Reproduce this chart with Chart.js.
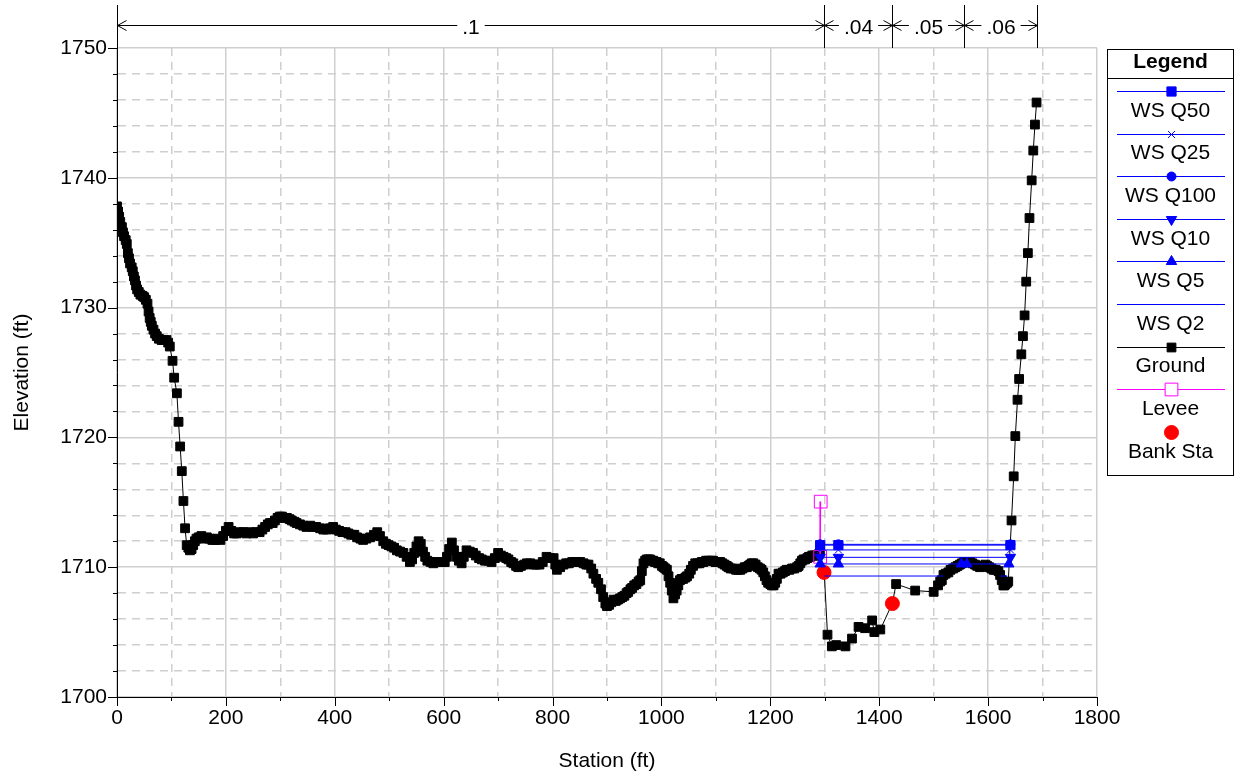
<!DOCTYPE html>
<html>
<head>
<meta charset="utf-8">
<script src="https://cdn.jsdelivr.net/npm/chart.js@4.4.1/dist/chart.umd.min.js"></script>
<style>
  html, body { margin: 0; padding: 0; background: #fff; }
</style>
</head>
<body>
<canvas id="xsChart" width="1235" height="777"></canvas>
<script>
// ground profile (station ft, elevation ft)
const groundStation = [
  0, 2, 4, 6, 9, 11, 13, 16, 18, 20, 22, 24, 27, 29, 31, 33, 35, 37, 40, 43,
  47, 50, 53, 56, 58, 60, 62, 64, 67, 70, 73, 77, 82, 86, 91, 94, 97, 102, 105, 110,
  113, 116, 119, 122, 125, 128, 131, 134, 137, 140, 143, 146, 150, 155, 160, 165, 170, 175, 180, 185,
  190, 195, 200, 205, 210, 215, 220, 226, 232, 238, 244, 250, 256, 262, 267, 272, 277, 281, 286, 290,
  295, 299, 303, 308, 312, 317, 321, 326, 330, 336, 342, 348, 355, 360, 366, 373, 379, 385, 391, 397,
  402, 408, 414, 420, 425, 430, 436, 441, 447, 452, 458, 465, 472, 478, 483, 489, 494, 499, 504, 509,
  514, 520, 526, 532, 538, 542, 546, 550, 554, 558, 562, 566, 570, 576, 581, 587, 592, 597, 602, 606,
  610, 615, 619, 624, 628, 633, 637, 642, 648, 654, 659, 665, 670, 676, 682, 688, 694, 700, 705, 710,
  715, 719, 724, 728, 733, 737, 742, 748, 753, 759, 765, 770, 776, 782, 789, 795, 802, 805, 808, 814,
  820, 825, 830, 836, 841, 846, 851, 857, 862, 866, 871, 875, 880, 884, 889, 893, 897, 900, 904, 908,
  912, 916, 920, 924, 928, 932, 936, 939, 943, 946, 950, 954, 958, 961, 964, 967, 970, 973, 976, 979,
  982, 985, 988, 991, 994, 997, 1001, 1004, 1007, 1010, 1013, 1016, 1019, 1022, 1025, 1028, 1031, 1034, 1037, 1040,
  1044, 1047, 1051, 1054, 1058, 1062, 1066, 1070, 1074, 1077, 1082, 1086, 1091, 1095, 1099, 1102, 1105, 1108, 1112, 1116,
  1120, 1123, 1127, 1132, 1137, 1141, 1145, 1149, 1153, 1157, 1160, 1163, 1166, 1169, 1173, 1177, 1181, 1184, 1187, 1190,
  1193, 1196, 1200, 1203, 1206, 1209, 1212, 1215, 1219, 1223, 1227, 1230, 1235, 1240, 1244, 1249, 1252, 1255, 1258, 1261,
  1264, 1268, 1271, 1273, 1277, 1280, 1283, 1286, 1289, 1291, 1299, 1305, 1313, 1321, 1338, 1350, 1362, 1374, 1387, 1391,
  1402, 1424, 1431, 1466, 1500, 1508, 1512, 1515, 1518, 1522, 1527, 1531, 1536, 1540, 1544, 1548, 1552, 1556, 1560, 1564,
  1567, 1571, 1576, 1580, 1585, 1590, 1595, 1598, 1602, 1606, 1610, 1614, 1619, 1622, 1625, 1628, 1630, 1632, 1635, 1637,
  1643, 1647, 1650, 1654, 1657, 1661, 1664, 1667, 1670, 1673, 1676, 1680, 1683, 1686, 1689
];
const groundElev = [
  1737.8, 1737.4, 1737.0, 1736.6, 1736.2, 1735.8, 1735.5, 1735.2, 1734.9, 1734.2, 1733.8, 1733.4, 1733.1, 1732.8, 1732.4, 1732.1, 1731.7, 1731.4, 1731.2, 1731.0,
  1730.9, 1730.8, 1730.6, 1730.3, 1729.7, 1729.2, 1728.9, 1728.6, 1728.3, 1728.0, 1727.8, 1727.6, 1727.5, 1727.5, 1727.5, 1727.3, 1727.0, 1725.9, 1724.6, 1723.4,
  1721.2, 1719.3, 1717.4, 1715.1, 1713.0, 1711.7, 1711.5, 1711.3, 1711.4, 1711.7, 1712.0, 1712.2, 1712.3, 1712.4, 1712.2, 1712.3, 1712.2, 1712.1, 1712.1, 1712.2,
  1712.1, 1712.4, 1712.8, 1713.1, 1712.8, 1712.6, 1712.6, 1712.7, 1712.7, 1712.6, 1712.7, 1712.6, 1712.7, 1712.7, 1712.9, 1713.1, 1713.3, 1713.4, 1713.4, 1713.6,
  1713.8, 1713.9, 1713.9, 1713.8, 1713.8, 1713.7, 1713.6, 1713.5, 1713.4, 1713.3, 1713.2, 1713.1, 1713.2, 1713.1, 1713.1, 1713.0, 1712.9, 1712.9, 1713.0, 1713.1,
  1712.9, 1712.8, 1712.7, 1712.7, 1712.6, 1712.5, 1712.5, 1712.3, 1712.2, 1712.1, 1712.2, 1712.3, 1712.5, 1712.7, 1712.4, 1712.0, 1711.8, 1711.7, 1711.6, 1711.5,
  1711.3, 1711.2, 1711.1, 1710.8, 1710.4, 1710.6, 1711.1, 1711.6, 1712.0, 1711.8, 1711.2, 1710.8, 1710.5, 1710.4, 1710.3, 1710.4, 1710.4, 1710.4, 1710.4, 1710.8,
  1711.4, 1711.9, 1711.3, 1710.8, 1710.5, 1710.3, 1710.8, 1711.3, 1711.2, 1711.1, 1710.9, 1710.7, 1710.6, 1710.5, 1710.5, 1710.4, 1710.7, 1711.1, 1710.9, 1710.8,
  1710.7, 1710.6, 1710.4, 1710.3, 1710.1, 1710.0, 1710.1, 1710.2, 1710.3, 1710.3, 1710.2, 1710.2, 1710.2, 1710.4, 1710.8, 1710.7, 1710.7, 1710.2, 1709.8, 1710.0,
  1710.2, 1710.3, 1710.3, 1710.4, 1710.4, 1710.4, 1710.4, 1710.3, 1710.2, 1710.2, 1709.9, 1709.5, 1709.1, 1708.8, 1708.3, 1707.7, 1707.2, 1707.0, 1707.1, 1707.3,
  1707.5, 1707.4, 1707.5, 1707.6, 1707.7, 1707.8, 1708.0, 1708.1, 1708.3, 1708.4, 1708.6, 1708.7, 1708.9, 1709.0, 1709.7, 1710.3, 1710.5, 1710.6, 1710.6, 1710.6,
  1710.5, 1710.5, 1710.4, 1710.4, 1710.3, 1710.3, 1710.1, 1710.0, 1709.9, 1709.8, 1709.3, 1708.8, 1708.2, 1707.6, 1707.9, 1708.2, 1708.6, 1709.0, 1709.1, 1709.1,
  1709.2, 1709.3, 1709.5, 1709.8, 1710.1, 1710.3, 1710.3, 1710.3, 1710.4, 1710.4, 1710.5, 1710.5, 1710.5, 1710.5, 1710.4, 1710.4, 1710.4, 1710.4, 1710.3, 1710.2,
  1710.1, 1710.0, 1709.9, 1709.9, 1709.8, 1709.8, 1709.8, 1709.9, 1710.0, 1710.0, 1710.1, 1710.2, 1710.3, 1710.3, 1710.2, 1710.0, 1709.9, 1709.8, 1709.6, 1709.3,
  1709.0, 1708.8, 1708.7, 1708.6, 1708.6, 1708.8, 1709.1, 1709.5, 1709.5, 1709.6, 1709.7, 1709.8, 1709.8, 1709.9, 1709.9, 1710.0, 1710.1, 1710.3, 1710.5, 1710.6,
  1710.6, 1710.7, 1710.8, 1710.8, 1710.9, 1710.9, 1710.9, 1710.9, 1711.0, 1711.2, 1709.6, 1704.8, 1703.9, 1704.0, 1703.9, 1704.5, 1705.4, 1705.3, 1705.9, 1705.0,
  1705.2, 1707.2, 1708.7, 1708.2, 1708.1, 1708.6, 1708.9, 1709.0, 1709.4, 1709.5, 1709.6, 1709.8, 1709.9, 1710.0, 1710.1, 1710.2, 1710.3, 1710.4, 1710.4, 1710.4,
  1710.4, 1710.3, 1710.2, 1710.1, 1710.0, 1710.1, 1710.2, 1710.1, 1710.0, 1709.9, 1709.8, 1709.8, 1709.7, 1709.4, 1709.0, 1708.6, 1708.6, 1708.7, 1708.8, 1708.9,
  1713.6, 1717.0, 1720.1, 1722.9, 1724.5, 1726.4, 1727.8, 1729.4, 1732.0, 1734.2, 1736.9, 1739.8, 1742.1, 1744.1, 1745.8
];

const bankStation = [1298.6, 1424.2];
const bankElev = [1709.6, 1707.2];
const leveeStation = [1292.5, 1291.5];
const leveeElev = [1715.05, 1710.8];

// water surface profiles: elevation and wetted station segments
const wsNames = ['WS Q50', 'WS Q25', 'WS Q100', 'WS Q10', 'WS Q5', 'WS Q2'];
const wsElev = [1711.70, 1711.33, 1711.76, 1710.76, 1710.25, 1709.32];
const wsSegments = [
  [[1291.5, 1325, 1641]],
  [[1291.5, 1325, 1641]],
  [[1291.5, 1325, 1641]],
  [[1291.5, 1325, 1641]],
  [[1291.5, 1325, 1551], [1561, 1638]],
  [[1299, 1517], [1622, 1635]]
];

// Manning's n breaks along the top
const nBreaks = [0, 1298.6, 1424.2, 1556, 1689.4];
const nValues = ['.1', '.04', '.05', '.06'];

const FONT = 'Liberation Sans, Arial, sans-serif';
Chart.defaults.font.family = FONT;
Chart.defaults.font.size = 21;
Chart.defaults.color = '#000';

function toPoints(xs, ys) {
  return xs.map((x, i) => ({ x: x, y: ys[i] }));
}

function wsPoints(segments, elev) {
  const pts = [];
  segments.forEach((seg, k) => {
    if (k > 0) {
      const prev = segments[k - 1];
      pts.push({ x: (prev[prev.length - 1] + seg[0]) / 2, y: null });
    }
    seg.forEach(x => pts.push({ x: x, y: elev }));
  });
  return pts;
}

const wsMarkers = [
  { style: 'rect', radius: 6.5, rotation: 0 },
  { style: 'crossRot', radius: 5, rotation: 0 },
  { style: 'circle', radius: 4.5, rotation: 0 },
  { style: 'triangle', radius: 6, rotation: 180 },
  { style: 'triangle', radius: 6, rotation: 0 },
  { style: 'circle', radius: 0, rotation: 0 }
];

const datasets = wsNames.map((name, i) => ({
  label: name,
  data: wsPoints(wsSegments[i], wsElev[i]),
  borderColor: '#0000ff',
  backgroundColor: '#0000ff',
  borderWidth: 1,
  pointStyle: wsMarkers[i].style,
  pointRadius: wsMarkers[i].radius,
  pointRotation: wsMarkers[i].rotation,
  pointBackgroundColor: '#0000ff',
  pointBorderColor: '#0000ff',
  pointBorderWidth: 1,
  spanGaps: false,
  order: 1
}));

datasets.push({
  label: 'Ground',
  data: toPoints(groundStation, groundElev),
  borderColor: '#000',
  borderWidth: 1,
  pointStyle: 'rect',
  pointRadius: 6.2,
  pointBackgroundColor: '#000',
  pointBorderColor: '#000',
  pointBorderWidth: 1,
  order: 4
});

datasets.push({
  label: 'Levee',
  data: toPoints(leveeStation, leveeElev),
  borderColor: '#ff00ff',
  borderWidth: 1,
  pointStyle: 'rect',
  pointRadius: 9,
  pointBackgroundColor: 'rgba(0,0,0,0)',
  pointBorderColor: '#ff00ff',
  pointBorderWidth: 1,
  order: 3
});

datasets.push({
  label: 'Bank Sta',
  data: toPoints(bankStation, bankElev),
  showLine: false,
  pointStyle: 'circle',
  pointRadius: 7,
  pointBackgroundColor: '#ff0000',
  pointBorderColor: '#ff0000',
  pointBorderWidth: 1,
  order: 2
});

// axis tick marks, axis extension and the n-value ruler on top
const framePlugin = {
  id: 'frame',
  afterDraw(chart) {
    const ctx = chart.ctx;
    const xs = chart.scales.x, ys = chart.scales.y;
    const area = chart.chartArea;
    ctx.save();
    ctx.strokeStyle = '#000';
    ctx.lineWidth = 1;
    ctx.beginPath();
    ys.ticks.forEach(t => {
      const y = Math.round(ys.getPixelForValue(t.value)) + 0.5;
      const len = t.value % 10 === 0 ? 9 : 4;
      ctx.moveTo(area.left - len, y);
      ctx.lineTo(area.left, y);
    });
    xs.ticks.forEach(t => {
      const x = Math.round(xs.getPixelForValue(t.value)) + 0.5;
      const len = t.value % 200 === 0 ? 9 : 4;
      ctx.moveTo(x, area.bottom);
      ctx.lineTo(x, area.bottom + len);
    });
    // y axis line continues up through the ruler
    const x0 = Math.round(area.left) + 0.5;
    ctx.moveTo(x0, 5);
    ctx.lineTo(x0, area.top);
    ctx.stroke();

    // n-value ruler
    const rulerY = 25.5;
    ctx.font = '21px ' + FONT;
    ctx.textAlign = 'center';
    ctx.textBaseline = 'middle';
    ctx.fillStyle = '#000';
    ctx.beginPath();
    nBreaks.forEach(b => {
      const x = Math.round(xs.getPixelForValue(b)) + 0.5;
      ctx.moveTo(x, 5);
      ctx.lineTo(x, area.top);
    });
    for (let i = 0; i < nValues.length; i++) {
      const xa = Math.round(xs.getPixelForValue(nBreaks[i])) + 0.5;
      const xb = Math.round(xs.getPixelForValue(nBreaks[i + 1])) + 0.5;
      const mid = (xa + xb) / 2;
      const half = ctx.measureText(nValues[i]).width / 2 + 5;
      ctx.moveTo(xa, rulerY);
      ctx.lineTo(mid - half, rulerY);
      ctx.moveTo(mid + half, rulerY);
      ctx.lineTo(xb, rulerY);
      // open arrow heads pointing at the breaks
      ctx.moveTo(xa + 9, rulerY - 5);
      ctx.lineTo(xa, rulerY);
      ctx.lineTo(xa + 9, rulerY + 5);
      ctx.moveTo(xb - 9, rulerY - 5);
      ctx.lineTo(xb, rulerY);
      ctx.lineTo(xb - 9, rulerY + 5);
      ctx.fillText(nValues[i], mid, rulerY + 3);
    }
    ctx.stroke();
    ctx.restore();
  }
};

// boxed legend on the right, marker line above each label
const boxLegendPlugin = {
  id: 'boxLegend',
  afterDraw(chart) {
    const ctx = chart.ctx;
    const left = 1107.5, right = 1233.5, top = 49.5, bottom = 475.5;
    const cx = (left + right) / 2;
    ctx.save();
    ctx.fillStyle = '#fff';
    ctx.fillRect(left, top, right - left, bottom - top);
    ctx.strokeStyle = '#000';
    ctx.lineWidth = 1;
    ctx.strokeRect(left, top, right - left, bottom - top);
    ctx.beginPath();
    ctx.moveTo(left, 78.5);
    ctx.lineTo(right, 78.5);
    ctx.stroke();
    ctx.fillStyle = '#000';
    ctx.textAlign = 'center';
    ctx.textBaseline = 'middle';
    ctx.font = 'bold 21px ' + FONT;
    ctx.fillText('Legend', cx, 62);
    ctx.font = '21px ' + FONT;
    chart.data.datasets.forEach((ds, i) => {
      const lineY = Math.round(91 + i * 42.6) + 0.5;
      const textY = 111 + i * 42.6;
      if (ds.showLine !== false) {
        ctx.strokeStyle = ds.borderColor;
        ctx.lineWidth = 1;
        ctx.beginPath();
        ctx.moveTo(1117, lineY);
        ctx.lineTo(1225, lineY);
        ctx.stroke();
      }
      if (ds.pointRadius > 0) {
        const fill = ds.label === 'Levee' ? '#fff' : ds.pointBackgroundColor;
        ctx.fillStyle = fill;
        ctx.strokeStyle = ds.pointBorderColor;
        ctx.lineWidth = 1;
        Chart.helpers.drawPoint(ctx, {
          pointStyle: ds.pointStyle,
          rotation: ds.pointRotation || 0,
          radius: ds.pointRadius,
          borderWidth: 1
        }, 1171.5, lineY);
      }
      ctx.fillStyle = '#000';
      ctx.fillText(ds.label, cx, textY);
    });
    ctx.restore();
  }
};

new Chart(document.getElementById('xsChart'), {
  type: 'line',
  data: { datasets: datasets },
  options: {
    responsive: false,
    animation: false,
    devicePixelRatio: 1,
    layout: { padding: { top: 48, right: 138, left: 0, bottom: 0 } },
    plugins: {
      legend: { display: false },
      tooltip: { enabled: false }
    },
    elements: { line: { tension: 0 } },
    scales: {
      x: {
        type: 'linear',
        min: 0,
        max: 1800,
        afterFit: s => { s.height = 80; },
        ticks: {
          stepSize: 100,
          autoSkip: false,
          maxRotation: 0,
          padding: 9,
          color: '#000',
          callback: v => (v % 200 === 0 ? v : '')
        },
        grid: {
          drawTicks: false,
          color: '#cfcfcf',
          lineWidth: 1.5
        },
        border: {
          color: '#000',
          width: 1,
          dash: c => (c.tick && c.tick.value % 200 !== 0 ? [8, 6] : [])
        },
        title: { display: true, text: 'Station (ft)', padding: { bottom: 3, top: 0 } }
      },
      y: {
        type: 'linear',
        min: 1700,
        max: 1750,
        afterFit: s => { s.width = 117; },
        ticks: {
          stepSize: 2,
          autoSkip: false,
          padding: 10,
          color: '#000',
          callback: v => (v % 10 === 0 ? v : '')
        },
        grid: {
          drawTicks: false,
          color: '#cfcfcf',
          lineWidth: 1.5
        },
        border: {
          color: '#000',
          width: 1,
          dash: c => (c.tick && c.tick.value % 10 !== 0 ? [8, 6] : [])
        },
        title: { display: true, text: 'Elevation (ft)', padding: { top: 10, bottom: 0 } }
      }
    }
  },
  plugins: [framePlugin, boxLegendPlugin]
});
</script>
</body>
</html>
